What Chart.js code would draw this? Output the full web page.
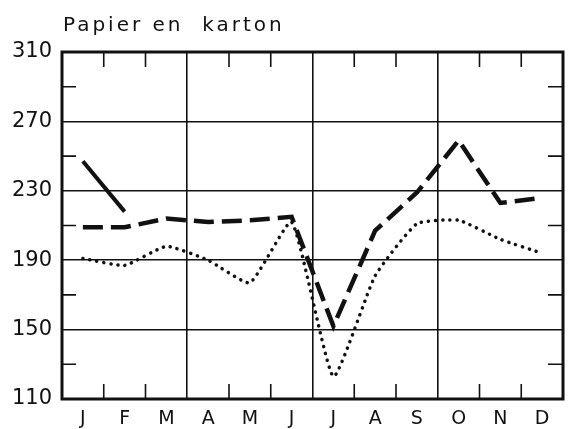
<!DOCTYPE html>
<html>
<head>
<meta charset="utf-8">
<script src="https://cdn.jsdelivr.net/npm/chart.js@4/dist/chart.umd.min.js"></script>
<style>
    html, body { margin: 0; padding: 0; background: #fff; }
    #wrap { width: 570px; height: 429px; }
</style>
</head>
<body>
<div id="wrap"><canvas id="chart"></canvas></div>
<script>
const title = 'Papier en  karton';
const months = ['J', 'F', 'M', 'A', 'M', 'J', 'J', 'A', 'S', 'O', 'N', 'D'];
const solidValues = [247, 218, null, null, null, null, null, null, null, null, null, null];
const dashedValues = [209, 209, 214, 212, 213, 215, 152, 207, 229, 259, 223, 226];
const dottedValues = [191, 187, 198, 190, 177, 212, 123, 181, 211, 213, 202, 194];
const yMin = 110;
const yMax = 310;

const ink = '#111';

// frame, short inside ticks and title
const framePlugin = {
    id: 'frame',
    afterDraw(chart) {
        const {ctx, chartArea: a, scales} = chart;
        const x = scales.x, y = scales.y;
        ctx.save();
        ctx.strokeStyle = ink;
        ctx.lineWidth = 1.6;
        ctx.beginPath();
        for (let i = 1; i < months.length; i++) {
            if (i % 3 === 0) continue;
            const px = (x.getPixelForValue(i - 1) + x.getPixelForValue(i)) / 2;
            ctx.moveTo(px, a.top); ctx.lineTo(px, a.top + 15);
            ctx.moveTo(px, a.bottom); ctx.lineTo(px, a.bottom - 15);
        }
        y.ticks.forEach(t => {
            if ((t.value - yMin) % 40 !== 20) return;
            const py = y.getPixelForValue(t.value);
            ctx.moveTo(a.left, py); ctx.lineTo(a.left + 14, py);
            ctx.moveTo(a.right, py); ctx.lineTo(a.right - 15, py);
        });
        ctx.stroke();

        ctx.lineWidth = 3;
        ctx.strokeRect(a.left, a.top, a.right - a.left, a.bottom - a.top);

        ctx.fillStyle = ink;
        ctx.font = '20px "DejaVu Sans"';
        ctx.letterSpacing = '3px';
        ctx.textBaseline = 'alphabetic';
        ctx.fillText(title, a.left + 1, 31);
        ctx.restore();
    }
};

new Chart(document.getElementById('chart'), {
    type: 'line',
    data: {
        labels: months,
        datasets: [
            {
                data: solidValues,
                borderColor: ink,
                borderWidth: 4,
                pointRadius: 0,
                spanGaps: false
            },
            {
                data: dashedValues,
                borderColor: ink,
                borderWidth: 4.5,
                borderDash: [20, 8],
                pointRadius: 0
            },
            {
                data: dottedValues,
                borderColor: ink,
                borderWidth: 3.5,
                borderDash: [0.1, 7],
                borderCapStyle: 'round',
                tension: 0.15,
                pointRadius: 0
            }
        ]
    },
    options: {
        responsive: true,
        maintainAspectRatio: false,
        animation: false,
        layout: {
            padding: {top: 52, right: 7, bottom: 0, left: 0}
        },
        plugins: {
            legend: {display: false},
            tooltip: {enabled: false}
        },
        scales: {
            x: {
                offset: true,
                grid: {
                    offset: true,
                    drawTicks: false,
                    lineWidth: 1.6,
                    color: (c) => (c.index % 3 === 0 && c.index > 0 && c.index < months.length) ? ink : 'transparent'
                },
                border: {display: false},
                ticks: {
                    color: ink,
                    padding: 9,
                    font: {family: 'DejaVu Sans', size: 19}
                },
                afterFit(scale) { scale.height = 30; }
            },
            y: {
                min: yMin,
                max: yMax,
                grid: {
                    drawTicks: false,
                    lineWidth: 1.6,
                    color: (c) => {
                        const v = c.tick ? c.tick.value : 0;
                        return ((v - yMin) % 40 === 0 && v > yMin && v < yMax) ? ink : 'transparent';
                    }
                },
                border: {display: false},
                ticks: {
                    stepSize: 20,
                    color: ink,
                    padding: 10,
                    font: {family: 'DejaVu Sans', size: 21},
                    callback: (v) => ((v - yMin) % 40 === 0 ? v : '')
                },
                afterFit(scale) { scale.width = 62; }
            }
        }
    },
    plugins: [framePlugin]
});
</script>
</body>
</html>
